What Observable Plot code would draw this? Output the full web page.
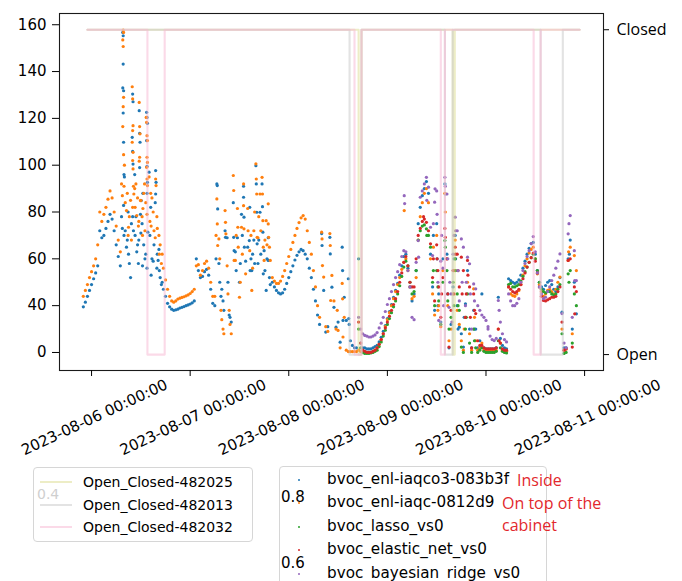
<!DOCTYPE html>
<html><head><meta charset="utf-8">
<script src="https://cdn.jsdelivr.net/npm/d3@7"></script>
<script src="https://cdn.jsdelivr.net/npm/@observablehq/plot@0.6"></script>
<style>
body{margin:0;background:#fff}
#root{position:relative;width:682px;height:581px;overflow:hidden;background:#fff;font-family:"DejaVu Sans",sans-serif}
#root svg{position:absolute;left:0;top:0}
.lg{position:absolute;border:1px solid #d6d6d6;border-radius:4px;background:rgba(255,255,255,0.8);box-sizing:border-box}
.row{position:absolute;white-space:nowrap;transform:translateY(-50%);line-height:1;color:#000}
.ann{position:absolute;white-space:nowrap;transform:translateY(-50%);line-height:1}
</style></head><body><div id="root"></div><script>
// ---- time base: hours since 2023-08-06 00:00 ----
const T0 = Date.UTC(2023, 7, 6);
const HOUR = 3600e3;
const at = h => new Date(T0 + h * HOUR);
const STEP = 0.5; // half-hour samples

// ---- scatter series ----
const seriesNames = ["bvoc_enl-iaqco3-083b3f","bvoc_enl-iaqc-0812d9","bvoc_lasso_vs0","bvoc_elastic_net_vs0","bvoc_bayesian_ridge_vs0"];
const seriesColors = ["#1f77b4","#ff7f0e","#2ca02c","#d62728","#9467bd"];
const seriesStartHour = [-2, -2, 65, 65, 65];

const blueValues = [
 39.5,41.5,44,46.5,49,51.5,54,57,72,69,
 70,73,76,79,77,72,66,61,57,73,
 95,65,62,52,78,96,63,68,71,88,
 60,56,97,53,59,84,62,55,49,47,
 44,41,39.5,38.5,38,38.2,38.5,39,39.3,39.6,
 40,40.3,40.7,41.2,42,60,55,52,52.5,54.5,
 55.5,53,47,41,40,92,58,44,42,72,
 69,36,33,84,63,69,50,79,91,59,
 65,82,55,68,99.8,58,79.9,92,63.5,46.5,
 69,49,50,48,46.5,45.5,45,45.5,47,49.5,
 52,54.5,57,59.5,61.5,63,64,63.5,62,60,
 56,52,47,42,36,32,70.8,46.5,28.7,31,
 69.2,47.9,39.3,30.8,33,24.4,65,43.6,33.7,51.5,
 25,23,
 22,22,60,24,22,22,21.5,21.5,21.5,22,
 22.5,23,24.5,26.5,29,31.5,34.5,37.5,40.5,43.5,
 46.5,49.5,53,57,61,62,56,48,42,45,
 55,75,82,87,90,93,88,62,48,38,
 75,45,33,60,92,62,22,32,48,70,
 40,30.8,28,22.3,40.8,55,30,22,38,30,
 22,25,45,22,21.5,21.5,21.5,21.5,21.5,22,
 43.6,26,23,22,21.5,51.5,50.7,50,49.5,50,
 51,53,56,59,62,64.5,66.5,67,62,55,
 50,48,47,48.6,50,50.7,49,47,46,48,
 52,37.2,22,22,60,68,30,50,36.5
];
const orangeValues = [
 44,46.5,49,52,54.5,57,60,66,80,76,
 79,82,85.5,89,86,80,74,68,63,87,
 100,80.6,73.5,85,82,90,78.5,76,85,81.5,
 72,79,95,74,80,69,73,62,58,56,
 51,47,44,42,41.5,42,42.8,43.2,43.5,43.8,
 44.2,44.6,45.2,46,47,57,57.5,53,55,58,
 59,56,50,44,44,85.6,68.5,38,30,80.6,
 57,38,28,95.6,59.3,81.5,43.6,73.5,92,53.6,
 81.5,63.5,46.5,72,100.6,69,87.7,94.8,59.3,76.3,
 83.5,59.3,52,50.5,49.5,49.5,50.5,52.5,55,58,
 61,64,67,70,73,75.5,77.5,78.5,77,72,
 67,62,55,48,40,35,71.4,52.2,31,29,
 70.8,52.9,42,30,29.4,22,49.5,35,21,20.4,
 20.4,20.4,
 20.4,20.4,21,20.4,20.4,20.2,20,20,20,20.5,
 21,22,23.5,25.5,28,31,34,37,40,43,
 46,49,52,55.5,58.5,60,55,48,43,44,
 52,68,78,84,88,90,84,60,45,36,
 70,40,31,55,88,60,25,30,45,68,
 38,32,25,21,35,50,28,21,47.2,25,
 21,22,24,21,20.5,20.5,20.5,20.5,20.5,21,
 30,24,21,20.5,20.5,48,45,44.3,44,45,
 46.5,49,53,57,60,62.5,64,65,60,53.6,
 49,46,44,45,46.5,47,46,45,47,50,
 52.2,30,21,21.5,59.3,65,28,61.4,55
];
const lassoValues = [
 30,22,20,19.6,19.6,19.6,19.8,20,20.5,21,
 22.5,24.5,27,29.5,32,34.5,37,39.5,42,45,
 48.5,52.5,56.5,59,57,50,45,46,55,68,
 72,74,74.5,72.8,70,65,50,40,55,42,
 32,50,67.8,55,30,35,50,60,45,38,
 22.3,20,30,45,24,20,30,22,20,21,
 22,20.5,20,20,20,20,20,20.5,25,22,
 20.5,20,19.8,49,49.5,48,48,48.5,49,50.5,
 52.5,54.5,56.5,58.5,60.5,62,60,55,50,47,
 46,45.5,46,46,45,44.5,45,47,49,28,
 19.6,20,53.6,55,24,45,40
];
const elasticValues = [
 33,24,21,20.5,20,20,20,20.5,21,22,
 23.5,25.5,28,30.5,33,35.5,38,40.5,43,46,
 50,54,58.5,61,57,50,48,48,60,70,
 73,76,77,75.6,72,66.4,52,42,66,48,
 35,52,73,60,22.3,38,55,65,62,48,
 60.7,55,35,59.3,48,22,45,36.6,25,23,
 23,22,21.5,21.5,21.5,21.5,21.5,22,30,24,
 21.5,21,21,48,47,46,45.5,46,47,49,
 51.5,54,56.5,58.5,60.5,62.5,59,54,48,44,
 42.2,42,42.5,43,43.6,43.6,44,46,48,33,
 21,21.5,59.3,60,22.3,48,46
];
const bayesValues = [
 35,30,28,27.3,27,26.6,26.6,27,27.5,28.5,
 30.5,32.5,35,37.5,40.5,43,46,49,52,54.5,
 57.5,61,63.5,63,55,48,35,34,58.5,67.8,
 86.3,89,92,94.8,90.6,73.5,61.4,84.2,89,33.7,
 59,56,94.8,87.7,39.3,45,62,77.8,72,42,
 68.5,65,40,60.7,57.9,30,49.3,47.2,40,38,
 36,35,33.7,30,27,25.5,25.1,26,42.2,33,
 28,25.5,24.5,45,42,40,40,41,43,50,
 55,58,61,63.5,66.5,69.5,63,54,48,45,
 43,43.6,46,48,50.7,53,56,59,62.1,36.6,
 24,22,70.7,78.5,35,63.5,50.7
];
// extra readings [hour, value] where several points share nearly the same time
const blueExtra = [
 [7.6,156.7],[7.7,155.3],[7.7,143.2],[7.6,133],[7.8,131.8],[7.7,122.3],[7.8,109.8],[7.9,96],[7.8,82.8],[7.9,70],
 [10,130.4],[10.1,127.1],[9.9,111.9],[10,105.9],[10.1,100.5],[10.2,72],
 [11.6,123.3],[11.7,113.6],[11.8,109.8],[11.7,99],[11.9,79],[12.1,84.9],
 [13.4,122.6],[13.5,120.4],[13.6,117.9],[13.4,110.5],[13.5,99.5],[13.6,92.7],[13.5,88],[13.7,71.4],
 [15.6,97.7],[15.7,92.7],[15.6,87.7],[16.2,59.3],
 [7.3,78],[8.2,72],[8.7,68],[9.2,58],[9.7,75],[10.6,70],[11.2,66],[11.4,58],[12.3,75],[12.7,66],[13.2,62],
 [14.2,70],[14.7,60],[15.2,66],[15.9,56],[16.7,52],[17.2,50],[8.9,80],[10.8,78],[12.4,57],[14.4,82],[16.4,64],
 [30.6,91.3],[30.7,81.3],[32.6,69.2],[34.6,69.2],[34.7,63.5],[37,86.3],[37.1,77.8],[37.2,65],[38.4,67.8],[38.6,55],
 [40.1,92],[40.2,79.9],[40.3,66.4],[41.6,82.3],[41.7,71.4],[41.8,53.6],[43,59.3],
 [30.3,60],[31.2,50],[31.7,47],[32.2,38],[33.2,50],[33.7,35],[35.2,55],[36.2,58],[36.7,70],[38.8,60],[39.2,62],
 [39.7,58],[40.7,68],[41.2,62],[42.2,55],[42.7,60],[43.3,52],
 [56.1,65.7],[58.1,62.1],[61.1,55],[61.2,33.7],[62.6,34.5],[62.7,32],
 [86.1,87.7],[84.1,60],[88.6,60],[116.3,62],
 [83.2,70],[84.3,40],[86.7,45],[88.2,60],[90.7,35],[93.2,30],[89.2,30]
];
const orangeExtra = [
 [7.7,157.7],[7.8,156.7],[7.6,153.5],[7.7,150.7],[7.8,129],[7.7,125],[7.6,116.5],[7.8,104.5],[7.9,91],
 [9.9,133.5],[10,128.3],[10.1,116.9],[10,114.8],[9.9,109.8],[10.1,105.5],[10,102],[10.1,98.4],[10.2,91],[10.3,87.7],
 [11.6,126.8],[11.7,116.5],[11.8,113.4],[11.7,103.4],[11.6,101.7],[11.9,84.9],
 [13.3,120.4],[13.4,118.3],[13.5,112.6],[13.6,110.5],[13.5,103.4],[13.6,101.2],[13.4,99.1],[13.5,94.1],[13.6,91.3],[12.9,92],
 [15.6,94.1],[15.7,91.3],
 [7.3,92],[8.2,84],[8.7,88],[9.2,78],[9.7,68],[10.6,82],[11.2,86],[11.4,74],[12.3,78],[12.7,88],[13.2,84],
 [14.2,76],[14.7,86],[15.2,72],[15.9,78],[16.7,66],[17.2,62],[8.9,70],[10.8,92],[12.4,70],[14.4,88],[16.4,70],
 [30.6,74.9],[30.7,65.7],[32.6,75.6],[32.7,70.7],[34.6,89.2],[34.7,59.3],[35.6,73.5],[35.7,65],[37,82.7],[37.1,72.8],[38.1,72],
 [40.1,94.1],[40.2,87.7],[40.3,69.2],[41.6,87.7],[41.7,76.3],[41.8,65],[43,74.9],[43.1,69.2],
 [30.3,70],[31.2,60],[31.7,34],[32.2,28],[33.2,45],[33.7,32],[35.2,70],[36.2,50],[36.7,62],[38.8,70],[39.2,56],
 [39.7,80],[40.7,78],[41.2,72],[42.2,68],[42.7,66],[43.3,65],
 [56.1,68.5],[56.2,57.1],[58.1,65.7],[58.2,42.2],[61.1,42.9],[61.2,26.6],[59.8,38],
 [76.1,80.6],[86.1,80],[116.1,63],
 [83.2,65],[84.3,38],[86.7,40],[88.2,55],[90.7,30],[93.2,35]
];
const lassoExtra = [[86.1,65],[88.6,55],[81.6,70],[116.2,50],
 [83.2,55],[84.3,48],[86.7,42],[88.2,40],[89.2,40],[91.2,35],[93.2,25]];
const elasticExtra = [[80.8,78],[86.1,69.2],[88.6,62],[91.6,53],[117.6,36.5],[84.1,60],
 [83.2,60],[84.3,55],[85.2,45],[86.7,45],[88.2,45],[89.2,55],[90.2,45],[91.2,45],[92.2,35],[93.2,38],[99.2,25]];
const bayesExtra = [[76.1,87],[76.2,83.6],[83.6,89.9],[84.1,79],[86.1,91],[88.6,72],[96.5,31],[117.6,50.7],[116.2,75],[81.6,85],[79.6,60.7],
 [83.2,75],[84.3,50],[85.2,70],[86.7,60],[87.2,50],[88.2,70],[89.2,55],[90.2,50],[91.2,50],[92.2,45],[93.2,42],[99.2,38],[85.7,40],[87.7,33]];

const seriesValues = [blueValues, orangeValues, lassoValues, elasticValues, bayesValues];
const seriesExtras = [blueExtra, orangeExtra, lassoExtra, elasticExtra, bayesExtra];

// ---- door state series (1 = Closed, 0 = Open) ----
const doorNames = ["Open_Closed-482025","Open_Closed-482013","Open_Closed-482032"];
const doorColors = ["#dbdb8d","#c7c7c7","#f7b6d2"];
const doorHours = [
 [-1, 65.0, 65.7, 87.9, 88.4, 118.8],
 [-1, 62.8, 65.7, 86.0, 87.9, 109.3, 114.7, 118.8],
 [-1, 13.6, 17.8, 64.0, 65.7, 85.0, 86.0, 107.6, 109.3, 118.8]
];
const doorStates = [
 [1,0,1,0,1,1],
 [1,0,1,0,1,0,1,1],
 [1,0,1,0,1,0,1,0,1,1]
];

// ---- ticks ----
const yTicks = [20,40,60,80,100,120,140,160];
const yTickLabels = ["0","40","60","80","100","120","140","160"];
const xTickHours = [0,24,48,72,96,120];
const xTickLabels = ["2023-08-06 00:00:00","2023-08-07 00:00:00","2023-08-08 00:00:00","2023-08-09 00:00:00","2023-08-10 00:00:00","2023-08-11 00:00:00"];
const doorTickLabels = ["Open","Closed"];

// ---- build tables ----
const points = [];
seriesValues.forEach((vals, s) => {
  vals.forEach((v, i) => points.push({t: at(seriesStartHour[s] + i * STEP), v, c: seriesColors[s]}));
  seriesExtras[s].forEach(([h, v]) => points.push({t: at(h), v, c: seriesColors[s]}));
});
const doorData = [];
doorNames.forEach((n, k) => doorHours[k].forEach((h, i) => doorData.push({t: at(h), s: doorStates[k][i], name: n, c: doorColors[k]})));

const W = 682, HGT = 460;
const M = {marginLeft: 59, marginRight: 79, marginTop: 13, marginBottom: 90};
const xDomain = [at(-7.8), at(124.6)];
const xTicks = xTickHours.map(at);

const main = Plot.plot({
  width: W, height: HGT, ...M,
  style: {background: "transparent", fontFamily: "DejaVu Sans", fontSize: "15px", color: "black"},
  x: {type: "utc", domain: xDomain},
  y: {domain: [12.3, 164.8]},
  color: {type: "identity"},
  marks: [
    Plot.dot(points, {x: "t", y: "v", fill: "c", r: 1.6}),
    Plot.frame({stroke: "#1a1a1a", strokeWidth: 1.1}),
    Plot.axisY({ticks: yTicks, tickFormat: d => yTickLabels[yTicks.indexOf(d)], tickSize: 7, tickPadding: 6, label: null}),
    Plot.axisX({ticks: xTicks, tickFormat: () => "", tickSize: 6, label: null}),
    Plot.text(xTicks, {x: d => d, text: (d, i) => xTickLabels[i], frameAnchor: "bottom", dx: 3, dy: 47, rotate: -25, textAnchor: "middle", lineAnchor: "middle"})
  ]
});

const over = Plot.plot({
  width: W, height: HGT, ...M,
  style: {background: "transparent", fontFamily: "Open Sans", fontSize: "16px", color: "black"},
  x: {type: "utc", domain: xDomain, axis: null},
  y: {domain: [-0.049, 1.05]},
  color: {type: "identity"},
  marks: [
    Plot.line(doorData, {x: "t", y: "s", z: "name", stroke: "c", strokeOpacity: 0.5, strokeWidth: 2.1, curve: "step-after"}),
    Plot.axisY({anchor: "right", ticks: [0, 1], tickFormat: d => doorTickLabels[d], tickSize: 5, tickPadding: 8, label: null})
  ]
});

const root = document.getElementById("root");
root.appendChild(main);
root.appendChild(over);

function el(tag, cls, style, text) {
  const e = document.createElement(tag);
  if (cls) e.className = cls;
  Object.assign(e.style, style);
  if (text != null) e.textContent = text;
  return e;
}
// legend 1 (door states)
const lg1 = el("div", "lg", {left: "33px", top: "467px", width: "220px", height: "75px"});
doorNames.forEach((n, k) => {
  const y = 14 + k * 22.6;
  lg1.appendChild(el("div", null, {position: "absolute", left: "6px", top: (y - 1) + "px", width: "32px", height: "2px", background: doorColors[k], opacity: 0.5}));
  lg1.appendChild(el("div", "row", {left: "49px", top: y + "px", fontSize: "14px"}, n));
});
root.appendChild(lg1);
// legend 2 (bvoc series)
const lg2 = el("div", "lg", {left: "279px", top: "466px", width: "268px", height: "150px"});
seriesNames.forEach((n, k) => {
  const y = 13 + k * 23.4;
  lg2.appendChild(el("div", null, {position: "absolute", left: "18px", top: (y - 1) + "px", width: "2px", height: "2px", borderRadius: "1px", background: seriesColors[k]}));
  lg2.appendChild(el("div", "row", {left: "47px", top: y + "px", fontSize: "15.2px"}, n));
});
root.appendChild(lg2);
// stray labels and annotations
root.appendChild(el("div", "ann", {left: "37px", top: "494px", fontSize: "14px", color: "#cfcfcf"}, "0.4"));
root.appendChild(el("div", "ann", {left: "281px", top: "497px", fontSize: "15px", color: "#000"}, "0.8"));
root.appendChild(el("div", "ann", {left: "281px", top: "563px", fontSize: "15px", color: "#000"}, "0.6"));
const red = {fontFamily: "Open Sans", fontSize: "16px", color: "#e2282d"};
root.appendChild(el("div", "ann", {left: "517px", top: "480px", ...red}, "Inside"));
root.appendChild(el("div", "ann", {left: "502px", top: "503px", ...red}, "On top of the"));
root.appendChild(el("div", "ann", {left: "502px", top: "525px", ...red}, "cabinet"));
</script></body></html>
